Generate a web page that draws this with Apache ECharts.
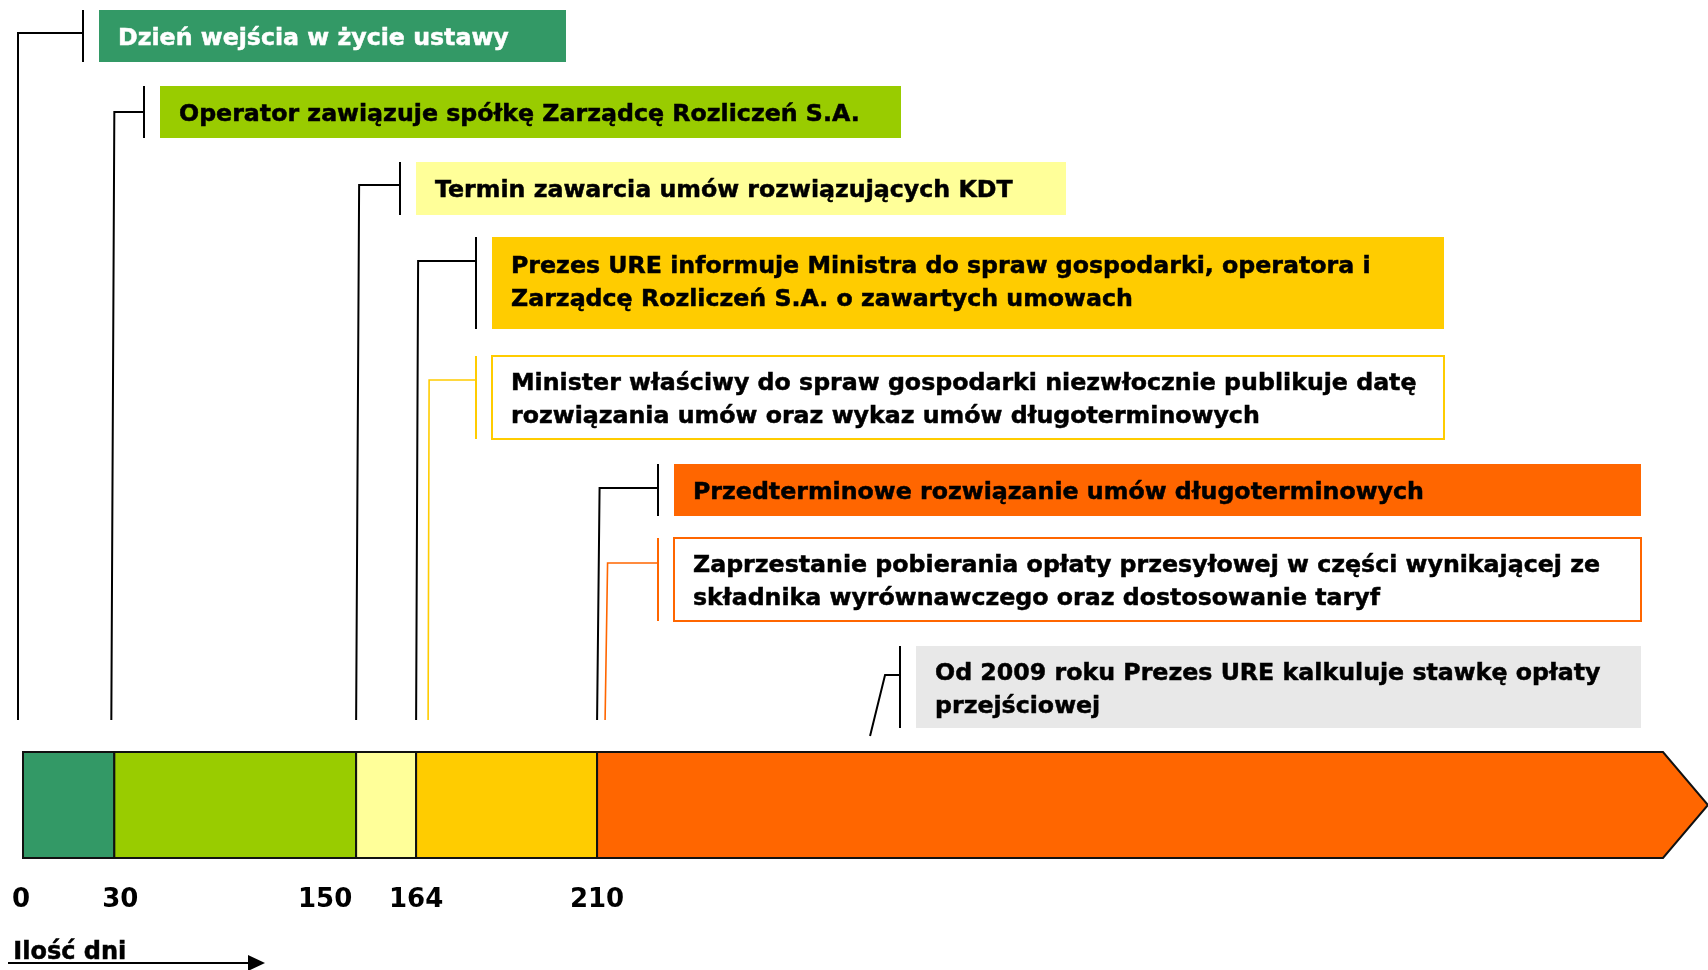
<!DOCTYPE html>
<html>
<head>
<meta charset="utf-8">
<script src="https://cdn.jsdelivr.net/npm/echarts@6/dist/echarts.min.js"></script>
<style>
html,body{margin:0;padding:0;background:#ffffff;}
#chart{width:1708px;height:970px;}
</style>
</head>
<body>
<div id="chart"></div>
<script>
// ---------------- DATA ----------------
// Milestones (days) and where each sits on the schematic (not-to-scale) timeline, in % of its length
const milestoneDays = [0, 30, 150, 164, 210];
const milestonePos  = [0, 5.42, 19.77, 23.33, 34.07];
const timelineEnd   = 100;
const rate2009Pos   = 50.27;   // point on the timeline the "Od 2009 roku" note refers to

// Events (text) and the timeline point each one is tied to
const eventTexts = [
  'Dzień wejścia w życie ustawy',
  'Operator zawiązuje spółkę Zarządcę Rozliczeń S.A.',
  'Termin zawarcia umów rozwiązujących KDT',
  'Prezes URE informuje Ministra do spraw gospodarki, operatora i\nZarządcę Rozliczeń S.A. o zawartych umowach',
  'Minister właściwy do spraw gospodarki niezwłocznie publikuje datę\nrozwiązania umów oraz wykaz umów długoterminowych',
  'Przedterminowe rozwiązanie umów długoterminowych',
  'Zaprzestanie pobierania opłaty przesyłowej w części wynikającej ze\nskładnika wyrównawczego oraz dostosowanie taryf',
  'Od 2009 roku Prezes URE kalkuluje stawkę opłaty\nprzejściowej'
];
const eventAnchor = [milestonePos[0], milestonePos[1], milestonePos[2], milestonePos[3],
                     milestonePos[3], milestonePos[4], milestonePos[4], rate2009Pos];
const axisLabelTitle = 'Ilość dni';

// ---------------- STYLES ----------------
const FONT = 'DejaVu Sans';
const segmentColors = ['#339966', '#99CC00', '#FFFF99', '#FFCC00', '#FF6600'];
const eventFill   = ['#339966', '#99CC00', '#FFFF99', '#FFCC00', '#FFFFFF', '#FF6600', '#FFFFFF', '#E8E8E8'];
const eventBorder = [null, null, null, null, '#FFCC00', null, '#FF6600', null];
const eventInk    = ['#FFFFFF', '#000000', '#000000', '#000000', '#000000', '#000000', '#000000', '#000000'];
const leaderColor = ['#000000', '#000000', '#000000', '#000000', '#FFCC00', '#000000', '#FF6600', '#000000'];

// ---------------- LAYOUT ----------------
const LAYOUT = {
  rowTop:      [10, 86, 162, 237, 356, 464, 538, 646],
  rowH:        [52, 52, 53, 92, 83, 52, 83, 82],
  boxLeft:     [99, 160, 416, 492, 492, 674, 674, 916],
  boxRight:    [566, 901, 1066, 1444, 1444, 1641, 1641, 1641],
  leaderDrop:  [23, 26, 23, 24, 24, 24, 25, 29],
  leaderShift: [-5, -3, 0, 0, 12, 0, 8, 0],
  leaderSlant: [0, 3, 3, 2, 1, 2.5, 2.5, 15],
  leaderBottom:[720, 720, 720, 720, 720, 720, 720, 736],
  textDy:      [3, 3, 2, 0, 3, 3, 3, 3],
  tickGap: 16,
  textPad: 19,
  arrowLen: 45,
  labelShift: [-2, 6, -31, 0, 0]
};

// ---------------- CHART ----------------
const chart = echarts.init(document.getElementById('chart'), null, {renderer: 'canvas'});

const rich = {};
milestoneDays.forEach((d, k) => {
  const s = LAYOUT.labelShift[k];
  rich['m' + k] = {
    fontFamily: FONT, fontWeight: 'bold', fontSize: 26, color: '#000',
    padding: s < 0 ? [0, -2 * s, 0, 0] : [0, 0, 0, 2 * s]
  };
});

const segData = milestonePos.map((p, k) => [p, k + 1 < milestonePos.length ? milestonePos[k + 1] : timelineEnd, k]);
const eventData = eventTexts.map((t, i) => [eventAnchor[i], 0, i]);

function renderSegment(params, api) {
  const s = api.value(0), e = api.value(1), k = api.value(2);
  const tl = api.coord([s, 1]), br = api.coord([e, 0]);
  const style = {fill: segmentColors[k], stroke: '#111', lineWidth: 2};
  if (k < milestonePos.length - 1) {
    return {type: 'rect', shape: {x: tl[0], y: tl[1], width: br[0] - tl[0], height: br[1] - tl[1]}, style};
  }
  const tip = br[0], sh = tip - LAYOUT.arrowLen, mid = (tl[1] + br[1]) / 2;
  return {type: 'polygon', shape: {points: [[tl[0], tl[1]], [sh, tl[1]], [tip, mid], [sh, br[1]], [tl[0], br[1]]]}, style};
}

function renderEvent(params, api) {
  const i = api.value(2);
  const xb = api.coord([api.value(0), 0])[0] + LAYOUT.leaderShift[i];
  const xt = xb + LAYOUT.leaderSlant[i];
  const top = LAYOUT.rowTop[i], h = LAYOUT.rowH[i];
  const bl = LAYOUT.boxLeft[i], brx = LAYOUT.boxRight[i];
  const tickX = bl - LAYOUT.tickGap;
  const ly = top + LAYOUT.leaderDrop[i];
  const col = leaderColor[i];
  return {
    type: 'group',
    children: [
      {type: 'rect', shape: {x: bl, y: top, width: brx - bl, height: h},
       style: {fill: eventFill[i], stroke: eventBorder[i] || null, lineWidth: eventBorder[i] ? 2 : 0}},
      {type: 'text', style: {text: eventTexts[i], x: bl + LAYOUT.textPad, y: top + h / 2 + LAYOUT.textDy[i],
        verticalAlign: 'middle', align: 'left', fill: eventInk[i],
        stroke: eventInk[i], lineWidth: 0.5,
        fontFamily: FONT, fontWeight: 'bold', fontSize: 23.7, lineHeight: 33}},
      {type: 'line', shape: {x1: tickX, y1: top, x2: tickX, y2: top + h},
       style: {stroke: col, lineWidth: 2}},
      {type: 'polyline', shape: {points: [[tickX, ly], [xt, ly], [xb, LAYOUT.leaderBottom[i]]]},
       style: {stroke: col, lineWidth: col === '#000000' ? 2 : 1.6, fill: null}}
    ]
  };
}

chart.setOption({
  backgroundColor: '#ffffff',
  animation: false,
  textStyle: {fontFamily: FONT},
  grid: {left: 23, right: 0, top: 752, bottom: 112, containLabel: false},
  xAxis: {
    type: 'value', min: 0, max: timelineEnd,
    axisLine: {show: false}, axisTick: {show: false}, splitLine: {show: false},
    axisLabel: {
      customValues: milestonePos,
      margin: 29,
      formatter: function (v) {
        const k = milestonePos.indexOf(v);
        return k < 0 ? '' : '{m' + k + '|' + milestoneDays[k] + '}';
      },
      rich: rich,
      fontFamily: FONT, fontWeight: 'bold', fontSize: 26, color: '#000'
    }
  },
  yAxis: {type: 'value', min: 0, max: 1, show: false},
  series: [
    {type: 'custom', name: 'timeline', renderItem: renderSegment, data: segData,
     encode: {x: [0, 1]}, clip: false, silent: true},
    {type: 'custom', name: 'events', renderItem: renderEvent, data: eventData,
     encode: {x: 0, y: 1}, clip: false, silent: true}
  ],
  graphic: [
    {type: 'text', left: 13, top: 941, style: {text: axisLabelTitle, fill: '#000',
      stroke: '#000', lineWidth: 0.5,
      fontFamily: FONT, fontWeight: 'bold', fontSize: 24}},
    {type: 'line', shape: {x1: 8, y1: 963, x2: 252, y2: 963}, style: {stroke: '#000', lineWidth: 2}},
    {type: 'polygon', shape: {points: [[248, 955], [265, 963], [248, 971]]}, style: {fill: '#000'}}
  ]
});
</script>
</body>
</html>
